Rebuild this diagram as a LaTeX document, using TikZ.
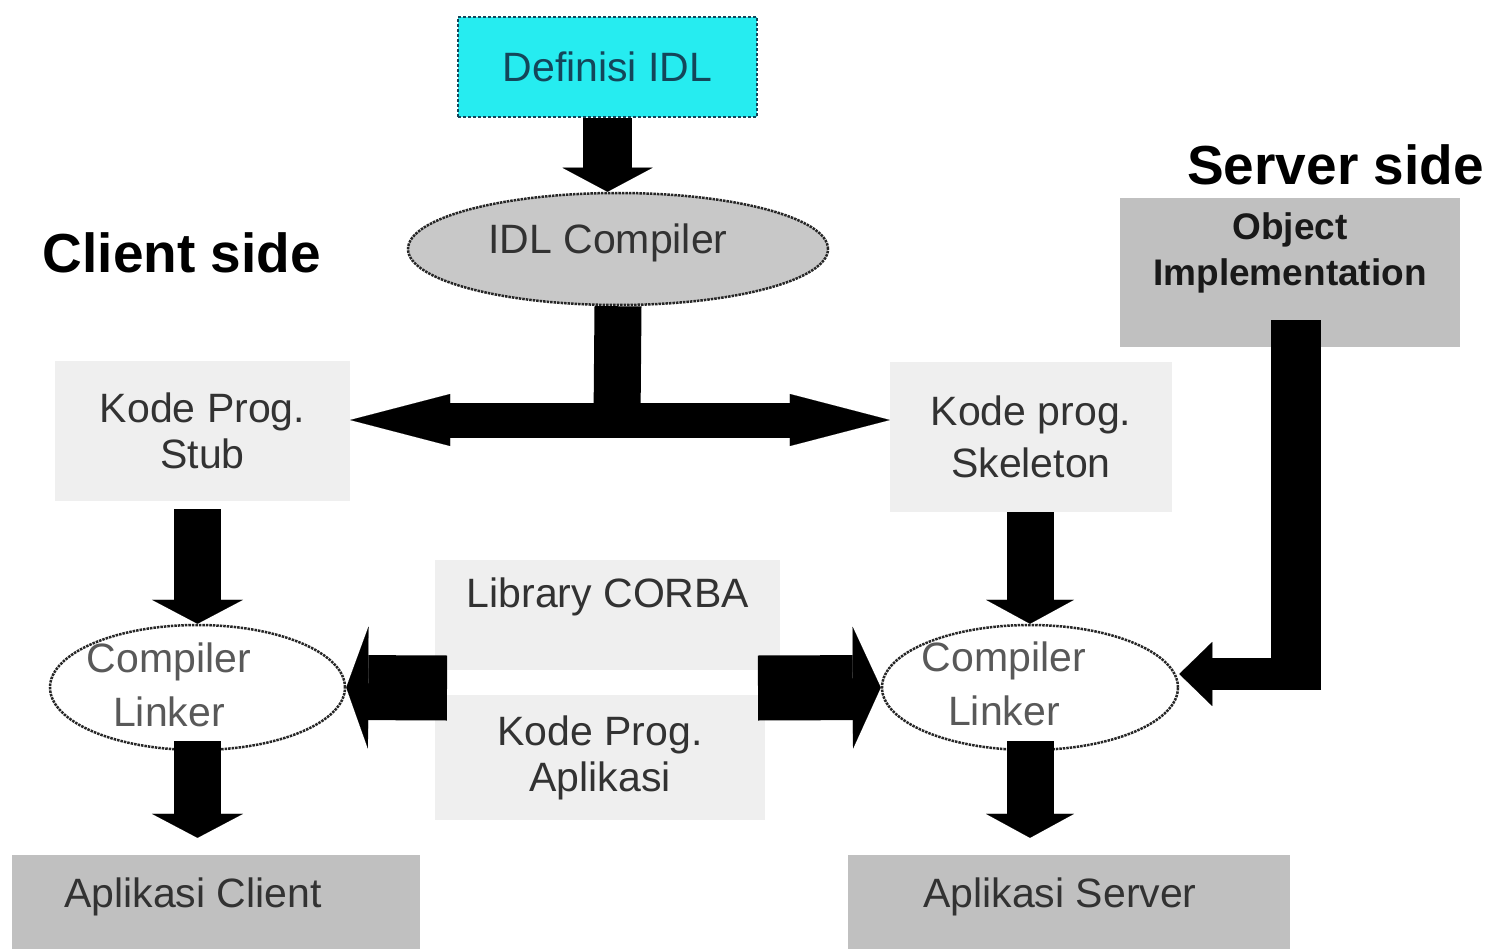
\documentclass[tikz,border=0pt]{standalone}
\usepackage{fontspec}
\setmainfont{Liberation Sans}
\usetikzlibrary{shapes.geometric,arrows.meta,calc}

\definecolor{idlcyan}{RGB}{38,236,240}
\definecolor{idlteal}{RGB}{20,70,90}
\definecolor{paper}{RGB}{239,239,239}
\definecolor{midgray}{RGB}{192,192,192}
\definecolor{ovalgray}{RGB}{200,200,200}
\definecolor{ink}{RGB}{50,50,50}

\begin{document}
\begin{tikzpicture}[x=1pt,y=-1pt,
  txt/.style={font=\fontsize{41}{46}\selectfont, text=ink, align=center, inner sep=0pt},
  lightbox/.style={rectangle, fill=paper, inner sep=0pt, txt},
  darkbox/.style={rectangle, fill=midgray, inner sep=0pt},
  oval/.style={ellipse, inner sep=0pt, draw=black!85, densely dotted, line width=2.5pt},
  heading/.style={font=\bfseries\fontsize{55}{60}\selectfont, text=black, inner sep=0pt},
  blockarrow/.style n args={3}{draw=black, line width=#1,
    -{Triangle[width=#2, length=#3, line width=0.1pt]}},
]
\useasboundingbox (0,0) rectangle (1488,949);

% --- IDL definition and compiler
\node[rectangle, fill=idlcyan, draw=idlteal, densely dashed, line width=2pt,
      minimum width=299pt, minimum height=100pt, inner sep=0pt,
      font=\fontsize{41}{46}\selectfont, text=idlteal] (defidl) at (607.5,67) {Definisi IDL};
\node[oval, fill=ovalgray, minimum width=420pt, minimum height=112pt] (idlc) at (618,249) {};
\node[txt] (idlctxt) at (608,243) {IDL Compiler};

% --- side headings
\node[heading] (client) at (182,253) {Client side};
\node[heading, anchor=east] (server) at (1484,165) {Server side};

% --- object implementation
\node[darkbox, minimum width=340pt, minimum height=149pt] (objbox) at (1290,272.5) {};
\node[txt, font=\bfseries\fontsize{37}{46}\selectfont, text=black!90] (objtxt) at (1290,253) {Object\\Implementation};

% --- generated code
\node[lightbox, minimum width=295pt, minimum height=140pt] (stub) at (202.5,431) {Kode Prog.\\Stub};
\node[lightbox, minimum width=282pt, minimum height=150pt] (skel) at (1031,437) {Kode prog.\\[6pt]Skeleton};

% --- libraries and application code
\node[lightbox, minimum width=345pt, minimum height=110pt] (lib) at (607.5,615) {};
\node[txt] (libtxt) at (608,597) {Library CORBA};
\node[lightbox, minimum width=330pt, minimum height=125pt] (app) at (600,757.5) {Kode Prog.\\Aplikasi};

% --- compiler / linker stages
\node[oval, fill=white, minimum width=295pt, minimum height=125pt] (ccl) at (197.5,687.5) {};
\node[txt, text=black!65, font=\fontsize{41}{54}\selectfont] (ccltxt) at (169,685) {Compiler\\Linker};
\node[oval, fill=white, minimum width=296pt, minimum height=125pt] (ccr) at (1030,687.5) {};
\node[txt, text=black!65, font=\fontsize{41}{54}\selectfont] (ccrtxt) at (1004,684) {Compiler\\Linker};

% --- resulting applications
\node[darkbox, minimum width=408pt, minimum height=96pt] (appclient) at (216,903) {};
\node[txt] (appclienttxt) at (193,897) {Aplikasi Client};
\node[darkbox, minimum width=442pt, minimum height=96pt] (appserver) at (1069,903) {};
\node[txt] (appservertxt) at (1060,897) {Aplikasi Server};

% --- block arrows
\draw[blockarrow={49pt}{90pt}{24pt}] (defidl.south) -- (defidl.south |- idlc.north);

\coordinate (split) at (617,420);
\draw[draw=black, line width=47pt] (idlc.south) -- (split);
\draw[blockarrow={35pt}{52pt}{100pt}] (split) -- (split -| stub.east);
\draw[blockarrow={35pt}{52pt}{100pt}] (split) -- (split -| skel.west);

\draw[blockarrow={47pt}{91pt}{24pt}] ([yshift=-8pt]stub.south -| ccl.north) -- (ccl.north);
\draw[blockarrow={47pt}{91pt}{24pt}] ([yshift=10pt]ccl.south) -- ([yshift=17pt]appclient.north -| ccl.south);
\draw[blockarrow={47pt}{88pt}{24pt}] (skel.south -| ccr.north) -- (ccr.north);
\draw[blockarrow={47pt}{88pt}{24pt}] ([yshift=10pt]ccr.south) -- ([yshift=17pt]appserver.north -| ccr.south);

\coordinate (gapL) at (447,688);
\coordinate (gapR) at (758,688);
\draw[blockarrow={65pt}{122pt}{22pt}] (gapL) -- (ccl.east);
\draw[blockarrow={65pt}{122pt}{28pt}] (gapR) -- (ccr.west);

\coordinate (bend) at (1296,674);
\draw[draw=black, line width=50pt] ([yshift=27pt]objbox.south -| bend) -- ($(bend)+(0,16)$);
\draw[blockarrow={32pt}{64pt}{33pt}] ($(bend)+(25,0)$) -- (ccr.east |- bend);
\end{tikzpicture}
\end{document}
